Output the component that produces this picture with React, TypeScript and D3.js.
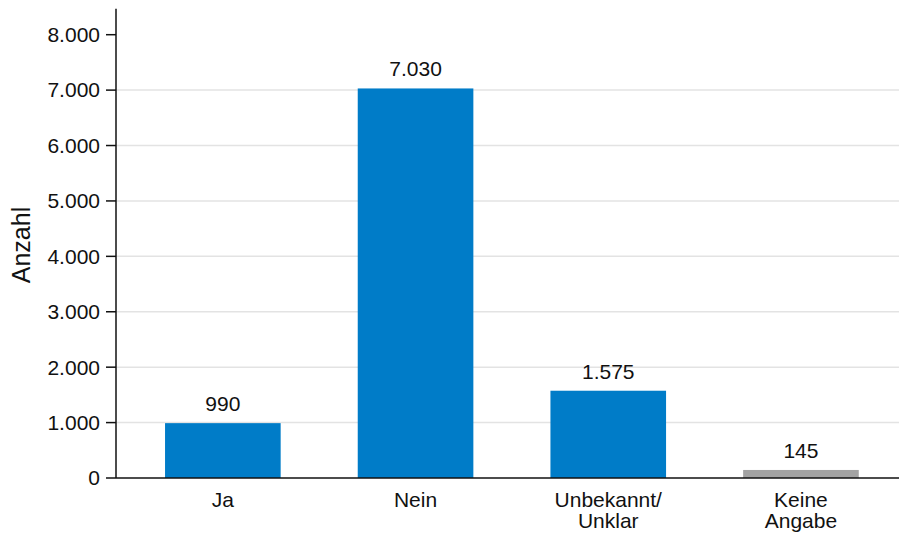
import React from "react";
import * as d3 from "d3";

const categories: string[][] = [["Ja"], ["Nein"], ["Unbekannt/", "Unklar"], ["Keine", "Angabe"]];
const values: number[] = [990, 7030, 1575, 145];
const valueLabels: string[] = ["990", "7.030", "1.575", "145"];
const barColors: string[] = ["#007cc8", "#007cc8", "#007cc8", "#a3a3a3"];
const yTicks: number[] = [0, 1000, 2000, 3000, 4000, 5000, 6000, 7000, 8000];
const gridTicks: number[] = [1000, 2000, 3000, 4000, 5000, 6000, 7000];
const yTickLabels: string[] = ["0", "1.000", "2.000", "3.000", "4.000", "5.000", "6.000", "7.000", "8.000"];
const yTitle = "Anzahl";

const W = 899;
const H = 537;
const FONT = "'Liberation Sans', Arial, Helvetica, sans-serif";

export default function App() {
  const axisX = 116;
  const y = d3.scaleLinear().domain([0, 8000]).range([478, 34.7]);
  const yTop = y(8470);
  const x = d3
    .scaleBand<number>()
    .domain(d3.range(categories.length))
    .range([126.5, 897.3])
    .paddingInner(0.4)
    .paddingOuter(0.2);

  return (
    <svg width={W} height={H} style={{ position: "absolute", left: 0, top: 0, display: "block" }} fontFamily={FONT}>
      <rect x={0} y={0} width={W} height={H} fill="#fff" />
      {gridTicks.map((t) => (
        <line key={"g" + t} x1={axisX} x2={W} y1={y(t)} y2={y(t)} stroke="#e3e3e3" strokeWidth={1.5} />
      ))}
      {values.map((v, i) => (
        <rect key={"b" + i} x={x(i)} y={y(v)} width={x.bandwidth()} height={y(0) - y(v)} fill={barColors[i]} />
      ))}
      {values.map((v, i) => (
        <text key={"v" + i} x={(x(i) as number) + x.bandwidth() / 2} y={y(v) - 12} textAnchor="middle" fontSize={21} fill="#111">
          {valueLabels[i]}
        </text>
      ))}
      <line x1={axisX} x2={axisX} y1={yTop} y2={y(0)} stroke="#111" strokeWidth={1.5} />
      <line x1={axisX} x2={W} y1={y(0)} y2={y(0)} stroke="#111" strokeWidth={1.5} />
      {yTicks.map((t, i) => (
        <g key={"t" + t}>
          <line x1={axisX - 10} x2={axisX} y1={y(t)} y2={y(t)} stroke="#111" strokeWidth={1.5} />
          <text x={axisX - 16} y={y(t)} dy="0.35em" textAnchor="end" fontSize={21} fill="#111">
            {yTickLabels[i]}
          </text>
        </g>
      ))}
      {categories.map((lines, i) => (
        <text key={"c" + i} x={(x(i) as number) + x.bandwidth() / 2} y={507} textAnchor="middle" fontSize={21} fill="#111">
          {lines.map((l, j) => (
            <tspan key={j} x={(x(i) as number) + x.bandwidth() / 2} dy={j === 0 ? 0 : 21}>
              {l}
            </tspan>
          ))}
        </text>
      ))}
      <text transform={`translate(30, 245) rotate(-90)`} textAnchor="middle" fontSize={25} fill="#111">
        {yTitle}
      </text>
    </svg>
  );
}
